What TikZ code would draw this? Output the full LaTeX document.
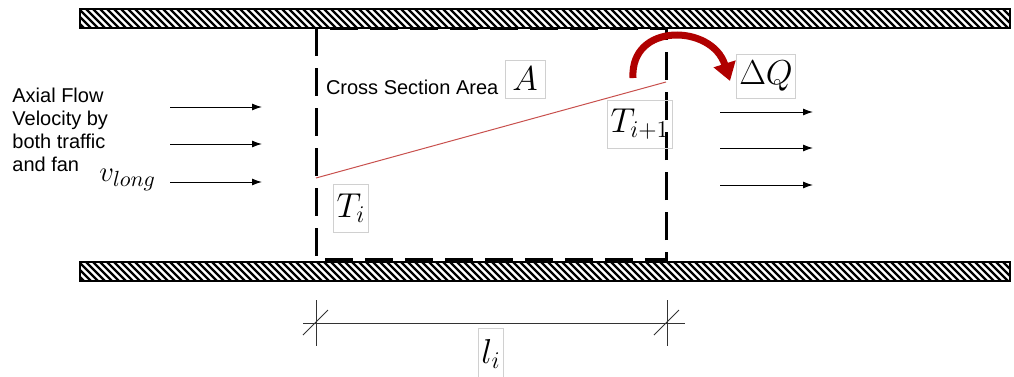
\documentclass[tikz,border=0pt]{standalone}
\usepackage{fontspec}
\setmainfont{Liberation Sans}
\usepackage{tikz}
\usetikzlibrary{arrows.meta,calc,positioning}
\definecolor{heatRed}{HTML}{B00000}
\definecolor{lineRed}{HTML}{C8504D}
\definecolor{boxGray}{HTML}{D0D0D0}
% hatched tunnel wall between two heights
\newcommand{\tunnelwall}[2]{%
  \begin{scope}
    \clip (80,#1) rectangle (1010,#2);
    \foreach \x in {58,65,...,1010}
      \draw[line width=1.2pt] (\x,#1) -- ++(19,{#2-#1});
  \end{scope}
  \draw[line width=0.6pt] (80,#1) rectangle (1010,#2);}

\begin{document}
\begin{tikzpicture}[
    x=0.5pt,y=-0.5pt,
    >=Latex,
    flow/.style={->,line width=0.5pt,>={Latex[length=5pt,width=3.5pt]}},
    lbl/.style={draw=boxGray,line width=0.3pt,inner sep=1.5pt,
      font=\fontsize{17}{20}\selectfont},
    txt/.style={font=\fontsize{10}{11.5}\selectfont,inner sep=0pt},
    dim/.style={line width=0.4pt,black!80}
  ]
    \useasboundingbox (0,0) rectangle (1014,376);

    \tunnelwall{9}{28}
    \tunnelwall{262}{281}

    % control volume
    \coordinate (boxNW) at (316,28);
    \coordinate (boxSE) at (666,259);
    \draw[line width=1.5pt,dash pattern=on 14pt off 6pt] (boxNW) rectangle (boxSE);

    % temperature rise along the section
    \coordinate (tIn) at (316,178);
    \coordinate (tOut) at (666,82);
    \draw[lineRed,line width=0.5pt] (tIn) -- (tOut);

    \node[lbl,minimum width=20pt,minimum height=19pt] (areaA) at (525,79) {$A$};
    \node[txt,left=3pt of areaA,yshift=-4pt] (area) {Cross Section Area};
    \node[lbl,minimum height=24pt] (Ti) at (351,208) {$T_i$};
    \node[lbl,minimum height=24pt] (Tnext) at (640,124) {$T_{i+1}$};
    \node[lbl,minimum height=22pt] (dQ) at (766,76) {$\Delta Q$};

    % heat release
    \coordinate (heatA) at (633,78);
    \coordinate (heatB) at (730,81);
    \draw[heatRed,line width=3.5pt,-{Triangle[width=11pt,length=9pt]}]
      (heatA) .. controls (630,22) and (712,24) .. (heatB);

    % axial flow
    \node[txt,align=left,anchor=north west] (axial) at (12,88)
      {Axial Flow\\Velocity by\\both traffic\\and fan};
    \node[inner sep=0pt,font=\fontsize{15}{18}\selectfont,anchor=west] (vlong) at (99,180) {$v_{long}$};
    \foreach \y [count=\i] in {107,144,182} {
      \coordinate (inS\i) at (170,\y);
      \coordinate (inE\i) at (262,\y);
      \draw[flow] (inS\i) -- (inE\i);
    }
    \foreach \y [count=\i] in {112,148,185} {
      \coordinate (outS\i) at (720,\y);
      \coordinate (outE\i) at (813,\y);
      \draw[flow] (outS\i) -- (outE\i);
    }

    % length of the section
    \coordinate (dimL) at (316,323);
    \coordinate (dimR) at (667,323);
    \draw[dim] ($(dimL)+(-13,0)$) -- ($(dimR)+(18,0)$);
    \draw[dim] ($(dimL)+(0,-23)$) -- ($(dimL)+(0,23)$);
    \draw[dim] ($(dimR)+(0,-23)$) -- ($(dimR)+(0,23)$);
    \draw[dim] ($(dimL)+(-13,12)$) -- ($(dimL)+(12,-13)$);
    \draw[dim] ($(dimR)+(-13,12)$) -- ($(dimR)+(12,-13)$);
    \node[lbl,minimum height=26pt] (li) at (491,354) {$l_i$};
  \end{tikzpicture}
\end{document}
